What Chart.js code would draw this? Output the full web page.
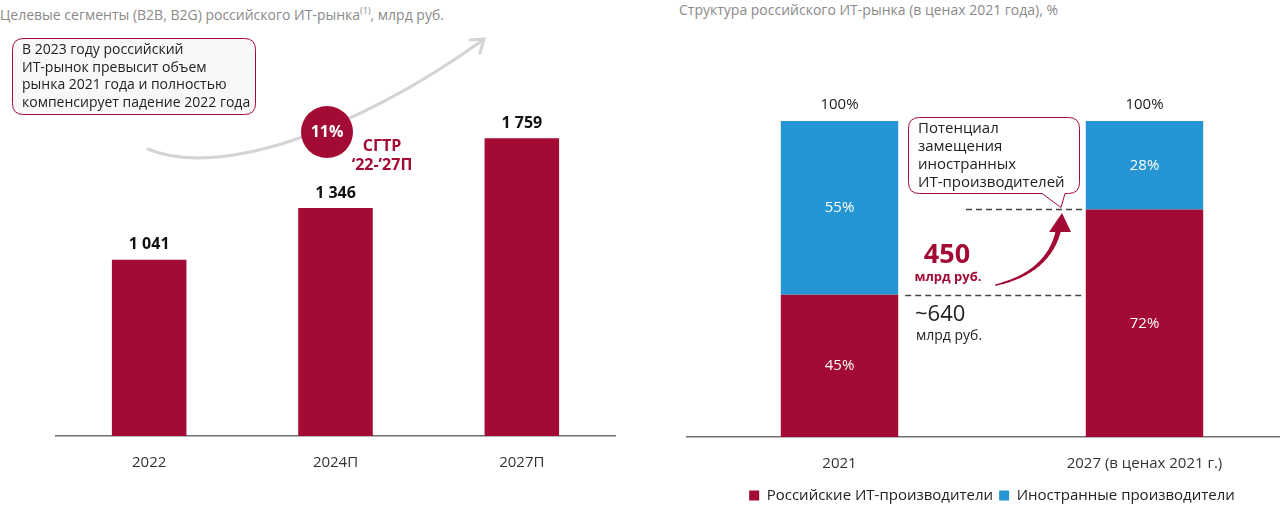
<!DOCTYPE html>
<html>
<head>
<meta charset="utf-8">
<script src="https://cdn.jsdelivr.net/npm/chart.js@4"></script>
<style>
  html, body { margin: 0; padding: 0; background: #fff; }
  body { width: 1280px; height: 506px; position: relative; overflow: hidden; font-family: 'Open Sans', sans-serif; }
  .title { position: absolute; color: #8a8a8a; font-size: 14px; white-space: nowrap; }
  .title sup { font-size: 9px; }
  #left-wrap { position: absolute; left: 0; top: 0; width: 640px; height: 506px; }
  #right-wrap { position: absolute; left: 640px; top: 0; width: 657px; height: 513px; }
</style>
</head>
<body>
<div class="title" style="left:0; top:4px;">Целевые сегменты (B2B, B2G) российского ИТ-рынка<sup>(1)</sup>, млрд руб.</div>
<div class="title" style="left:679px; top:0px;">Структура российского ИТ-рынка (в ценах 2021 года), %</div>
<div id="left-wrap"><canvas id="left-chart"></canvas></div>
<div id="right-wrap"><canvas id="right-chart"></canvas></div>
<script>
const marketYears = ['2022', '2024П', '2027П'];
const marketValues = [1041, 1346, 1759];

const structureYears = ['2021', '2027 (в ценах 2021 г.)'];
const russianShare = [45, 72];
const foreignShare = [55, 28];

const RED = '#a30b34';
const BLUE = '#2595d3';
const FONT = "'Open Sans', sans-serif";
const RIGHT_OFFSET = 640; // right canvas starts here on the page

function roundRect(ctx, x, y, w, h, r) {
    ctx.beginPath();
    ctx.moveTo(x + r, y);
    ctx.lineTo(x + w - r, y);
    ctx.quadraticCurveTo(x + w, y, x + w, y + r);
    ctx.lineTo(x + w, y + h - r);
    ctx.quadraticCurveTo(x + w, y + h, x + w - r, y + h);
    ctx.lineTo(x + r, y + h);
    ctx.quadraticCurveTo(x, y + h, x, y + h - r);
    ctx.lineTo(x, y + r);
    ctx.quadraticCurveTo(x, y, x + r, y);
    ctx.closePath();
}

function fmtThousands(v) {
    return String(v).replace(/\B(?=(\d{3})+(?!\d))/g, ' ');
}

// left chart: value labels + callout, arrow, CAGR badge
const leftDecor = {
    id: 'leftDecor',
    afterDatasetsDraw(chart) {
        const ctx = chart.ctx;
        const meta = chart.getDatasetMeta(0);
        ctx.save();
        ctx.fillStyle = '#111';
        ctx.font = `bold 16px ${FONT}`;
        ctx.textAlign = 'center';
        ctx.textBaseline = 'middle';
        meta.data.forEach((bar, i) => {
            ctx.fillText(fmtThousands(marketValues[i]), bar.x, bar.y - 15);
        });

        // gray growth arrow
        ctx.strokeStyle = '#d4d4d4';
        ctx.lineWidth = 3;
        ctx.lineCap = 'round';
        ctx.beginPath();
        ctx.moveTo(148, 149);
        ctx.bezierCurveTo(215, 178, 350, 135, 483, 40);
        ctx.stroke();
        ctx.beginPath();
        ctx.moveTo(470, 40);
        ctx.lineTo(484, 39);
        ctx.lineTo(480, 53);
        ctx.stroke();

        // callout
        roundRect(ctx, 12.5, 38.5, 243, 76, 11);
        ctx.fillStyle = '#f8f8f8';
        ctx.fill();
        ctx.strokeStyle = RED;
        ctx.lineWidth = 1;
        ctx.stroke();
        ctx.fillStyle = '#222';
        ctx.font = `14px ${FONT}`;
        ctx.textAlign = 'left';
        ['В 2023 году российский', 'ИТ-рынок превысит объем', 'рынка 2021 года и полностью', 'компенсирует падение 2022 года']
            .forEach((t, i) => ctx.fillText(t, 22, 50 + i * 17.7));

        // CAGR badge
        ctx.beginPath();
        ctx.arc(327, 132, 26, 0, Math.PI * 2);
        ctx.fillStyle = RED;
        ctx.fill();
        ctx.fillStyle = '#fff';
        ctx.font = `bold 16px ${FONT}`;
        ctx.textAlign = 'center';
        ctx.fillText('11%', 327, 132);
        ctx.fillStyle = RED;
        ctx.font = `bold 16px ${FONT}`;
        ctx.fillText('СГТР', 382, 146);
        ctx.fillText('‘22-’27П', 382, 165);
        ctx.restore();
    }
};

// right chart: segment labels, totals, callout, arrow, dashed lines
const rightDecor = {
    id: 'rightDecor',
    afterDatasetsDraw(chart) {
        const ctx = chart.ctx;
        const y = chart.scales.y;
        ctx.save();
        ctx.textAlign = 'center';
        ctx.textBaseline = 'middle';
        chart.data.datasets.forEach((ds, di) => {
            chart.getDatasetMeta(di).data.forEach((bar, i) => {
                ctx.fillStyle = '#fff';
                ctx.font = `15px ${FONT}`;
                ctx.fillText(ds.data[i] + '%', bar.x, (bar.y + bar.base) / 2);
            });
        });
        const top = chart.getDatasetMeta(1).data;
        ctx.fillStyle = '#222';
        top.forEach((bar, i) => {
            ctx.fillText(russianShare[i] + foreignShare[i] + '%', bar.x, bar.y - 16);
        });

        const b0 = chart.getDatasetMeta(0).data[0];
        const b1 = chart.getDatasetMeta(0).data[1];
        const yLow = Math.round(y.getPixelForValue(russianShare[0])) + 0.5;
        const yHigh = Math.round(y.getPixelForValue(russianShare[1])) + 0.5;

        // dashed lines
        ctx.strokeStyle = '#444';
        ctx.lineWidth = 1.5;
        ctx.setLineDash([6, 4]);
        ctx.beginPath();
        ctx.moveTo(b0.x + b0.width / 2 + 7, yLow);
        ctx.lineTo(b1.x - b1.width / 2 - 2, yLow);
        ctx.moveTo(966 - RIGHT_OFFSET, yHigh);
        ctx.lineTo(b1.x - b1.width / 2 - 2, yHigh);
        ctx.stroke();
        ctx.setLineDash([]);

        // page-coordinate annotations
        ctx.translate(-RIGHT_OFFSET, 0);

        // callout with tail
        const cx = 908.5, cy = 117.5, cw = 171, ch = 76, r = 11;
        ctx.beginPath();
        ctx.moveTo(cx + r, cy);
        ctx.lineTo(cx + cw - r, cy);
        ctx.quadraticCurveTo(cx + cw, cy, cx + cw, cy + r);
        ctx.lineTo(cx + cw, cy + ch - r);
        ctx.quadraticCurveTo(cx + cw, cy + ch, cx + cw - r, cy + ch);
        ctx.lineTo(1065, cy + ch);
        ctx.lineTo(1061, yHigh - 2);
        ctx.lineTo(1042, cy + ch);
        ctx.lineTo(cx + r, cy + ch);
        ctx.quadraticCurveTo(cx, cy + ch, cx, cy + ch - r);
        ctx.lineTo(cx, cy + r);
        ctx.quadraticCurveTo(cx, cy, cx + r, cy);
        ctx.closePath();
        ctx.fillStyle = '#fff';
        ctx.fill();
        ctx.strokeStyle = RED;
        ctx.lineWidth = 1;
        ctx.stroke();
        ctx.fillStyle = '#222';
        ctx.font = `15px ${FONT}`;
        ctx.textAlign = 'left';
        ['Потенциал', 'замещения', 'иностранных', 'ИТ-производителей']
            .forEach((t, i) => ctx.fillText(t, 918, 129 + i * 18));

        // 450 label
        ctx.fillStyle = RED;
        ctx.textAlign = 'center';
        ctx.font = `bold 27px ${FONT}`;
        ctx.fillText('450', 947, 255);
        ctx.font = `bold 13px ${FONT}`;
        ctx.fillText('млрд руб.', 948, 277);

        // red curved arrow, tapering from thin to thick
        ctx.strokeStyle = RED;
        ctx.lineCap = 'round';
        const p0 = [996, 285], pc = [1050, 272], p1 = [1059, 228];
        const steps = 16;
        for (let s = 0; s < steps; s++) {
            const t0 = s / steps, t1 = (s + 1) / steps;
            const pt = t => [
                (1 - t) * (1 - t) * p0[0] + 2 * (1 - t) * t * pc[0] + t * t * p1[0],
                (1 - t) * (1 - t) * p0[1] + 2 * (1 - t) * t * pc[1] + t * t * p1[1]
            ];
            const a = pt(t0), b = pt(t1);
            ctx.lineWidth = 1.5 + 3.5 * t1;
            ctx.beginPath();
            ctx.moveTo(a[0], a[1]);
            ctx.lineTo(b[0], b[1]);
            ctx.stroke();
        }
        ctx.beginPath();
        ctx.moveTo(1062, 213);
        ctx.lineTo(1071, 232);
        ctx.lineTo(1049, 232);
        ctx.closePath();
        ctx.fillStyle = RED;
        ctx.fill();

        // ~640 label
        ctx.fillStyle = '#222';
        ctx.textAlign = 'left';
        ctx.font = `22px ${FONT}`;
        ctx.fillText('~640', 915, 315);
        ctx.font = `14px ${FONT}`;
        ctx.fillText('млрд руб.', 916, 336);
        ctx.restore();
    }
};

new Chart(document.getElementById('left-chart'), {
    type: 'bar',
    data: {
        labels: marketYears,
        datasets: [{ data: marketValues, backgroundColor: RED, categoryPercentage: 1, barPercentage: 0.40 }]
    },
    options: {
        responsive: true,
        maintainAspectRatio: false,
        animation: false,
        layout: { padding: { left: 56, right: 25, top: 0, bottom: 0 } },
        plugins: { legend: { display: false }, tooltip: { enabled: false } },
        scales: {
            x: {
                grid: { display: false },
                border: { color: '#6f6f6f', width: 1.5 },
                ticks: { color: '#333', font: { family: FONT, size: 15 }, padding: 10 },
                afterFit(scale) { scale.height = 70; }
            },
            y: { display: false, min: 0, max: 2575 }
        }
    },
    plugins: [leftDecor]
});

new Chart(document.getElementById('right-chart'), {
    type: 'bar',
    data: {
        labels: structureYears,
        datasets: [
            { label: 'Российские ИТ-производители', data: russianShare, backgroundColor: RED, categoryPercentage: 1, barPercentage: 0.385 },
            { label: 'Иностранные производители', data: foreignShare, backgroundColor: BLUE, categoryPercentage: 1, barPercentage: 0.385 }
        ]
    },
    options: {
        responsive: true,
        maintainAspectRatio: false,
        animation: false,
        layout: { padding: { left: 47, right: 0, top: 121, bottom: 0 } },
        plugins: {
            tooltip: { enabled: false },
            legend: {
                position: 'bottom',
                labels: {
                    color: '#222',
                    font: { family: FONT, size: 15 },
                    boxWidth: 10,
                    boxHeight: 10,
                    padding: 6
                }
            }
        },
        scales: {
            x: {
                stacked: true,
                grid: { display: false },
                border: { color: '#6f6f6f', width: 1.5 },
                ticks: { color: '#333', font: { family: FONT, size: 15 }, padding: 10 },
                afterFit(scale) { scale.height = 45; }
            },
            y: { stacked: true, display: false, min: 0, max: 100 }
        }
    },
    plugins: [rightDecor]
});
</script>
</body>
</html>
